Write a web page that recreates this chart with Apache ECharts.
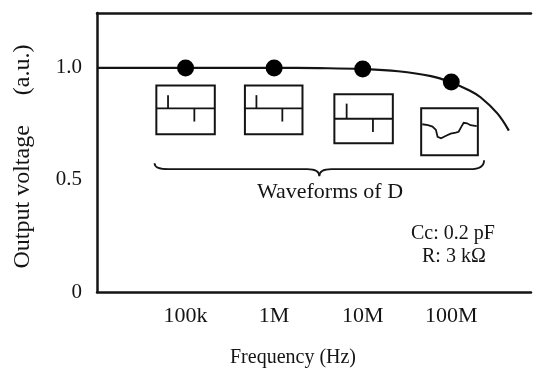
<!DOCTYPE html>
<html>
<head>
<meta charset="utf-8">
<script src="https://cdn.jsdelivr.net/npm/echarts@6/dist/echarts.min.js"></script>
<style>
  html, body { margin: 0; padding: 0; background: #fff; }
  #chart { width: 534px; height: 373px; }
</style>
</head>
<body>
<div id="chart"></div>
<script>
// frequency in log10(Hz), output voltage in a.u.
const curveLogF = [4.0, 5.0, 6.0, 6.5, 7.0, 7.4, 7.77, 8.0, 8.2, 8.33, 8.52, 8.65];
const curveV = [1.0, 1.0, 1.0, 0.999, 0.995, 0.985, 0.963, 0.935, 0.9, 0.869, 0.797, 0.72];
const measLogF = [5, 6, 7, 8];
const measV = [1.0, 1.0, 0.995, 0.937];
const freqLabels = { 5: '100k', 6: '1M', 7: '10M', 8: '100M' };
const voltLabels = { 0: '0', 0.5: '0.5', 1: '1.0' };

// waveform insets: [logF left, logF right, V top, V bottom, waveform index]
const insets = [
  [4.67, 5.33, 0.922, 0.704, 0],
  [5.67, 6.32, 0.922, 0.704, 0],
  [6.68, 7.34, 0.882, 0.664, 1],
  [7.66, 8.30, 0.820, 0.610, 2]
];

// waveform traces, as fractions of the inset box
const waves = [
  [[[0, 0.47], [1, 0.47]], [[0.2, 0.47], [0.2, 0.2]], [[0.65, 0.47], [0.65, 0.74]]],
  [[[0, 0.5], [1, 0.5]], [[0.21, 0.5], [0.21, 0.19]], [[0.66, 0.5], [0.66, 0.77]]],
  [[[0.02, 0.34], [0.12, 0.36], [0.2, 0.39], [0.26, 0.46], [0.29, 0.61], [0.35, 0.64],
    [0.43, 0.59], [0.52, 0.54], [0.61, 0.52], [0.66, 0.5], [0.71, 0.39], [0.75, 0.31],
    [0.81, 0.32], [0.87, 0.36], [0.98, 0.38]]]
];

const ink = '#141414';
const serif = "'Liberation Serif', 'DejaVu Serif', serif";

const chart = echarts.init(document.getElementById('chart'));

const option = {
  animation: false,
  grid: { left: 97, right: 0, top: 13, bottom: 81 },
  xAxis: [
    {
      type: 'value',
      min: 4,
      max: 8.9,
      interval: 1,
      name: 'Frequency (Hz)',
      nameLocation: 'middle',
      nameGap: 56,
      nameTextStyle: { color: ink, fontFamily: serif, fontSize: 20, padding: [0, 42, 0, 0] },
      axisLine: { lineStyle: { color: ink, width: 2.5 } },
      axisTick: { show: false },
      splitLine: { show: false },
      axisLabel: {
        color: ink, fontFamily: serif, fontSize: 22, margin: 13,
        formatter: v => freqLabels[v] || ''
      }
    },
    {
      type: 'value',
      position: 'top',
      min: 4,
      max: 8.9,
      axisLine: { show: true, lineStyle: { color: ink, width: 2.5 } },
      axisTick: { show: false },
      axisLabel: { show: false },
      splitLine: { show: false }
    }
  ],
  yAxis: {
    type: 'value',
    min: 0,
    max: 1.245,
    interval: 0.5,
    name: 'Output voltage     (a.u.)',
    nameLocation: 'middle',
    nameGap: 62,
    nameTextStyle: { color: ink, fontFamily: serif, fontSize: 24, padding: [0, 8, 0, 0] },
    axisLine: { show: true, lineStyle: { color: ink, width: 2.5 } },
    axisTick: { show: false },
    splitLine: { show: false },
    axisLabel: {
      color: ink, fontFamily: serif, fontSize: 21, margin: 15,
      formatter: v => (voltLabels[v] !== undefined ? voltLabels[v] : '')
    }
  },
  series: [
    {
      type: 'line',
      data: curveLogF.map((f, i) => [f, curveV[i]]),
      smooth: 0.4,
      showSymbol: false,
      lineStyle: { color: ink, width: 2.2 },
      z: 3
    },
    {
      type: 'scatter',
      data: measLogF.map((f, i) => [f, measV[i]]),
      symbolSize: 17,
      itemStyle: { color: '#000', opacity: 1 },
      z: 4
    },
    {
      type: 'custom',
      data: insets,
      clip: false,
      renderItem: (params, api) => {
        const d = insets[params.dataIndex];
        const p0 = api.coord([d[0], d[2]]);
        const p1 = api.coord([d[1], d[3]]);
        const w = p1[0] - p0[0];
        const h = p1[1] - p0[1];
        const children = [{
          type: 'rect',
          shape: { x: p0[0], y: p0[1], width: w, height: h },
          style: { fill: '#fff', stroke: ink, lineWidth: 2 }
        }];
        waves[d[4]].forEach(line => {
          children.push({
            type: 'polyline',
            shape: { points: line.map(pt => [p0[0] + pt[0] * w, p0[1] + pt[1] * h]) },
            style: { fill: null, stroke: ink, lineWidth: 1.8 }
          });
        });
        return { type: 'group', children };
      }
    },
    {
      type: 'custom',
      data: [0],
      clip: false,
      renderItem: (params, api) => {
        const L = api.coord([4.65, 0.575]);
        const R = api.coord([8.37, 0.588]);
        const T = api.coord([6.51, 0.517]);
        const base = api.coord([6.51, 0.548])[1];
        const path = 'M' + L[0] + ',' + L[1] +
          ' Q' + L[0] + ',' + base + ' ' + (L[0] + 14) + ',' + base +
          ' L' + (T[0] - 12) + ',' + base +
          ' Q' + T[0] + ',' + base + ' ' + T[0] + ',' + T[1] +
          ' Q' + T[0] + ',' + base + ' ' + (T[0] + 12) + ',' + base +
          ' L' + (R[0] - 14) + ',' + base +
          ' Q' + R[0] + ',' + base + ' ' + R[0] + ',' + R[1];
        return {
          type: 'path',
          shape: { pathData: path },
          style: { fill: null, stroke: ink, lineWidth: 1.8 }
        };
      }
    }
  ],
  graphic: [
    {
      type: 'text', left: 257, top: 181,
      style: { text: 'Waveforms of D', fill: ink, font: '22px ' + serif }
    },
    {
      type: 'text', left: 411, top: 224,
      style: { text: 'Cc: 0.2 pF', fill: ink, font: '20px ' + serif }
    },
    {
      type: 'text', left: 422, top: 247,
      style: { text: 'R: 3 kΩ', fill: ink, font: '20px ' + serif }
    }
  ]
};

chart.setOption(option);
</script>
</body>
</html>
